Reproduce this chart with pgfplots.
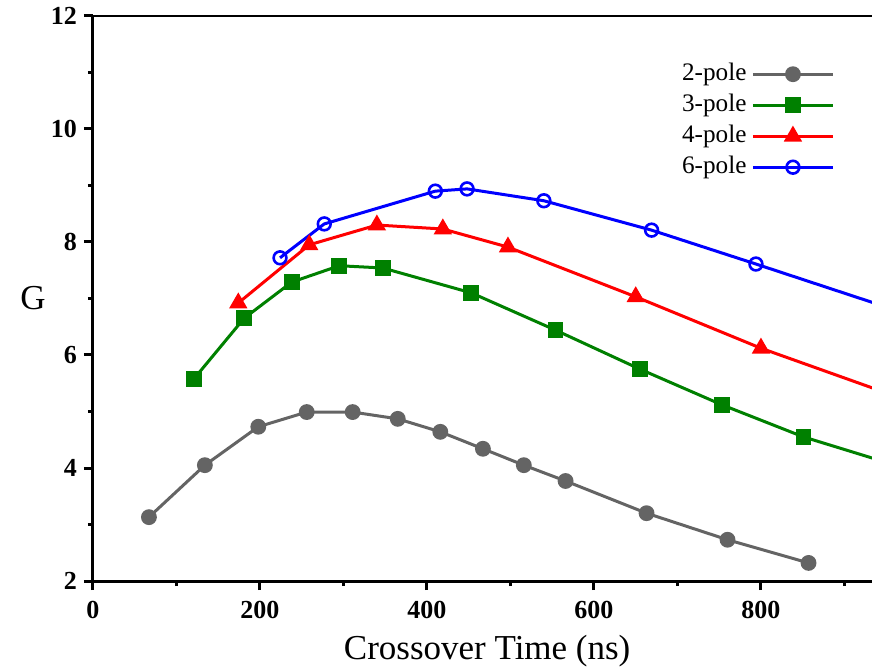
\documentclass[border=0pt]{standalone}
\usepackage{pgfplots}
\pgfplotsset{compat=1.18}
\usepackage{fontspec}
\setmainfont{Liberation Serif}
\definecolor{cgray}{RGB}{100,100,100}
\definecolor{cgreen}{RGB}{0,128,0}
\definecolor{cred}{RGB}{255,0,0}
\definecolor{cblue}{RGB}{0,0,255}
\begin{document}
\begin{tikzpicture}
\begin{axis}[
  scale only axis,
  width=389.5pt, height=282.5pt,
  xmin=0, xmax=933, ymin=2, ymax=12,
  axis x line=bottom, axis y line=left,
  axis line style={-, line width=1.5pt},
  xtick={0,200,...,800}, ytick={2,4,...,12},
  minor xtick={100,300,...,900}, minor ytick={3,5,...,11},
  tick align=outside,
  major tick length=4.5pt, minor tick length=2.5pt,
  every tick/.style={black, line width=1.5pt},
  /pgf/number format/assume math mode=true,
  tick label style={font=\bfseries\fontsize{13}{15}\selectfont},
  xticklabel style={yshift=-2pt},
  xlabel={Crossover Time (ns)},
  ylabel={G},
  label style={font=\fontsize{17.5}{21}\selectfont},
  xlabel style={at={(axis description cs:0.506,-0.124)}, anchor=center},
  ylabel style={at={(axis description cs:-0.077,0.5)}, anchor=center, rotate=-90},
  legend plot pos=right,
  legend style={draw=none, fill=none, at={(rel axis cs:0.960,0.926)}, anchor=north east,
    font=\fontsize{12.6}{14}\selectfont, row sep=3.5pt, column sep=2.5pt,
    nodes={inner sep=0pt, text height=9pt, text depth=3pt}},
  legend image code/.code={\draw[mark repeat=2, mark phase=2] plot coordinates {(0pt,0pt) (20pt,0pt) (40pt,0pt)};},
  every axis plot/.append style={line width=1.5pt},
]
\coordinate (SW) at (rel axis cs:0,0);
\coordinate (NE) at (rel axis cs:1,1);
\draw[line width=1.5pt] (rel axis cs:0,1) -- (rel axis cs:1,1);

\addplot[color=cgray, mark=*, mark size=3.2pt, mark options={solid, fill=cgray}] coordinates {
(67,3.13) (134,4.05) (198,4.73) (256,4.99) (311,4.99) (365,4.87) (416,4.64) (467,4.34) (516,4.05) (566,3.77) (663,3.20) (760,2.73) (857,2.32)};
\addlegendentry{2-pole}

\addplot[color=cgreen, mark=square*, mark size=3.2pt, mark options={solid, fill=cgreen}] coordinates {
(121,5.58) (181,6.65) (238,7.29) (295,7.58) (347,7.54) (453,7.10) (554,6.44) (655,5.75) (753,5.12) (851,4.55) (950,4.10)};
\addlegendentry{3-pole}

\addplot[color=cred, mark=triangle*, mark size=3.8pt, mark options={solid, fill=cred}] coordinates {
(174,6.92) (259,7.95) (340,8.30) (419,8.23) (497,7.91) (650,7.03) (800,6.12) (950,5.33)};
\addlegendentry{4-pole}

\addplot[color=cblue, mark=o, mark size=3.2pt, mark options={solid, line width=1.3pt}] coordinates {
(224,7.72) (277,8.32) (410,8.90) (448,8.94) (540,8.73) (669,8.21) (794,7.61) (950,6.85)};
\addlegendentry{6-pole}
\end{axis}
\pgfresetboundingbox
\path[use as bounding box] ([xshift=-46.5pt,yshift=-44pt]SW) rectangle ([yshift=8pt]NE);
\end{tikzpicture}
\end{document}
